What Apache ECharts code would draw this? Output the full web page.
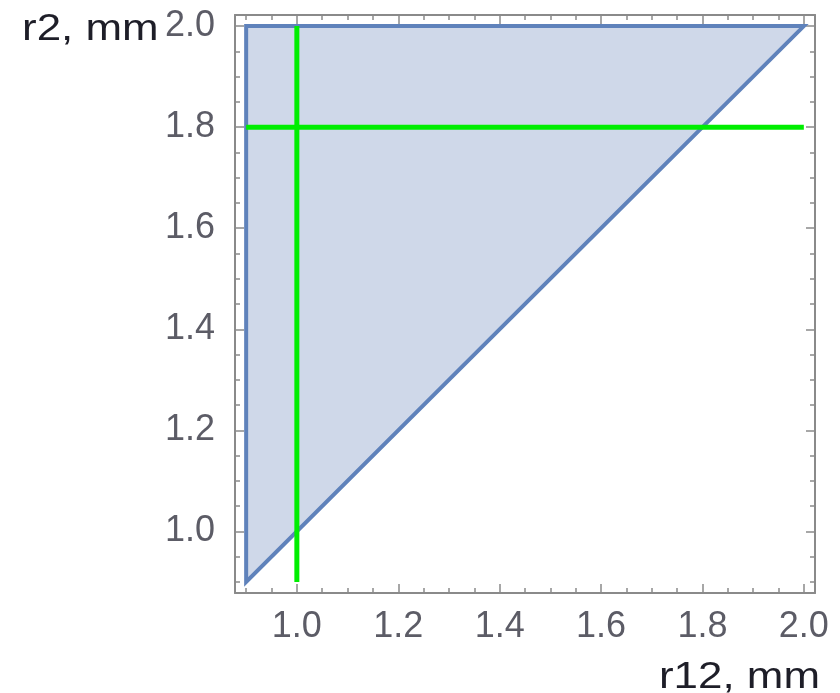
<!DOCTYPE html>
<html>
<head>
<meta charset="utf-8">
<title>r2 vs r12 region</title>
<script src="https://cdn.jsdelivr.net/npm/echarts@6/dist/echarts.min.js"></script>
<style>
  html, body { margin: 0; padding: 0; background: #ffffff; }
  #chart { width: 840px; height: 693px; }
</style>
</head>
<body>
<div id="chart"></div>
<script>
// Plot range (both axes share it)
const axisMin = 0.878;
const axisMax = 2.022;

// Labelled (major) ticks and unlabelled (minor) ticks
const labelTicks = [1.0, 1.2, 1.4, 1.6, 1.8, 2.0];
const minorTicks = [0.9, 0.95, 1.05, 1.1, 1.15, 1.25, 1.3, 1.35, 1.45, 1.5, 1.55,
                    1.65, 1.7, 1.75, 1.85, 1.9, 1.95];

// Allowed region: triangle with corners (r12, r2)
const regionR12 = [0.9, 0.9, 2.0];
const regionR2  = [0.9, 2.0, 2.0];

// Constraint lines
const lineR12Value = 1.0;          // vertical line r12 = 1.0
const lineR12Span  = [0.9, 2.0];   // its r2 extent
const lineR2Value  = 1.8;          // horizontal line r2 = 1.8
const lineR2Span   = [0.9, 2.0];   // its r12 extent

const xName = 'r12, mm';
const yName = 'r2, mm';

const frameColor = '#8a8a8a';
const labelColor = '#5c5c66';
const labelFont = 'Liberation Sans';

function makeAxis(position, ticks, tickLen, withLine, withLabels, margin) {
  return {
    type: 'value',
    position: position,
    min: axisMin,
    max: axisMax,
    offset: 0,
    splitLine: { show: false },
    axisLine: { show: withLine, onZero: false, lineStyle: { color: frameColor, width: 2 } },
    axisTick: {
      show: true, inside: true, length: tickLen,
      customValues: ticks,
      lineStyle: { color: frameColor, width: 1.5 }
    },
    axisLabel: withLabels ? {
      show: true,
      customValues: labelTicks,
      formatter: v => Number(v).toFixed(1),
      color: labelColor,
      fontFamily: labelFont,
      fontSize: 36,
      margin: margin
    } : { show: false }
  };
}

const chart = echarts.init(document.getElementById('chart'), null, { renderer: 'canvas' });

const option = {
  animation: false,
  backgroundColor: '#ffffff',
  grid: { left: 235, top: 15, width: 580, height: 578, containLabel: false },
  xAxis: [
    makeAxis('bottom', labelTicks, 9, true, true, 16),
    makeAxis('bottom', minorTicks, 5, false, false),
    makeAxis('top', labelTicks, 9, true, false),
    makeAxis('top', minorTicks, 5, false, false)
  ],
  yAxis: [
    makeAxis('left', labelTicks, 9, true, true, 20),
    makeAxis('left', minorTicks, 5, false, false),
    makeAxis('right', labelTicks, 9, true, false),
    makeAxis('right', minorTicks, 5, false, false)
  ],
  series: [
    {
      type: 'custom',
      xAxisIndex: 0,
      yAxisIndex: 0,
      data: regionR12.map((x, i) => [x, regionR2[i]]),
      renderItem: function (params, api) {
        if (params.dataIndex !== 0) return null;
        const pts = regionR12.map((x, i) => api.coord([x, regionR2[i]]));
        return {
          type: 'polygon',
          shape: { points: pts },
          style: { fill: '#cfd8e9', stroke: '#5f82bb', lineWidth: 4, lineJoin: 'miter' }
        };
      },
      z: 2
    },
    {
      type: 'line',
      xAxisIndex: 0,
      yAxisIndex: 0,
      data: [[lineR12Value, lineR12Span[0]], [lineR12Value, lineR12Span[1]]],
      symbol: 'none',
      lineStyle: { color: '#00ee00', width: 5, cap: 'butt' },
      z: 3
    },
    {
      type: 'line',
      xAxisIndex: 0,
      yAxisIndex: 0,
      data: [[lineR2Span[0], lineR2Value], [lineR2Span[1], lineR2Value]],
      symbol: 'none',
      lineStyle: { color: '#00ee00', width: 5, cap: 'butt' },
      z: 3
    }
  ],
  graphic: [
    {
      type: 'text',
      x: 22, y: 12,
      scaleX: 1.22,
      style: {
        text: yName,
        font: '36px "Liberation Sans"',
        fill: '#1e1e28',
        align: 'left',
        verticalAlign: 'top'
      }
    },
    {
      type: 'text',
      x: 820, y: 660,
      scaleX: 1.22,
      style: {
        text: xName,
        font: '36px "Liberation Sans"',
        fill: '#1e1e28',
        align: 'right',
        verticalAlign: 'top'
      }
    }
  ]
};

chart.setOption(option);
</script>
</body>
</html>
